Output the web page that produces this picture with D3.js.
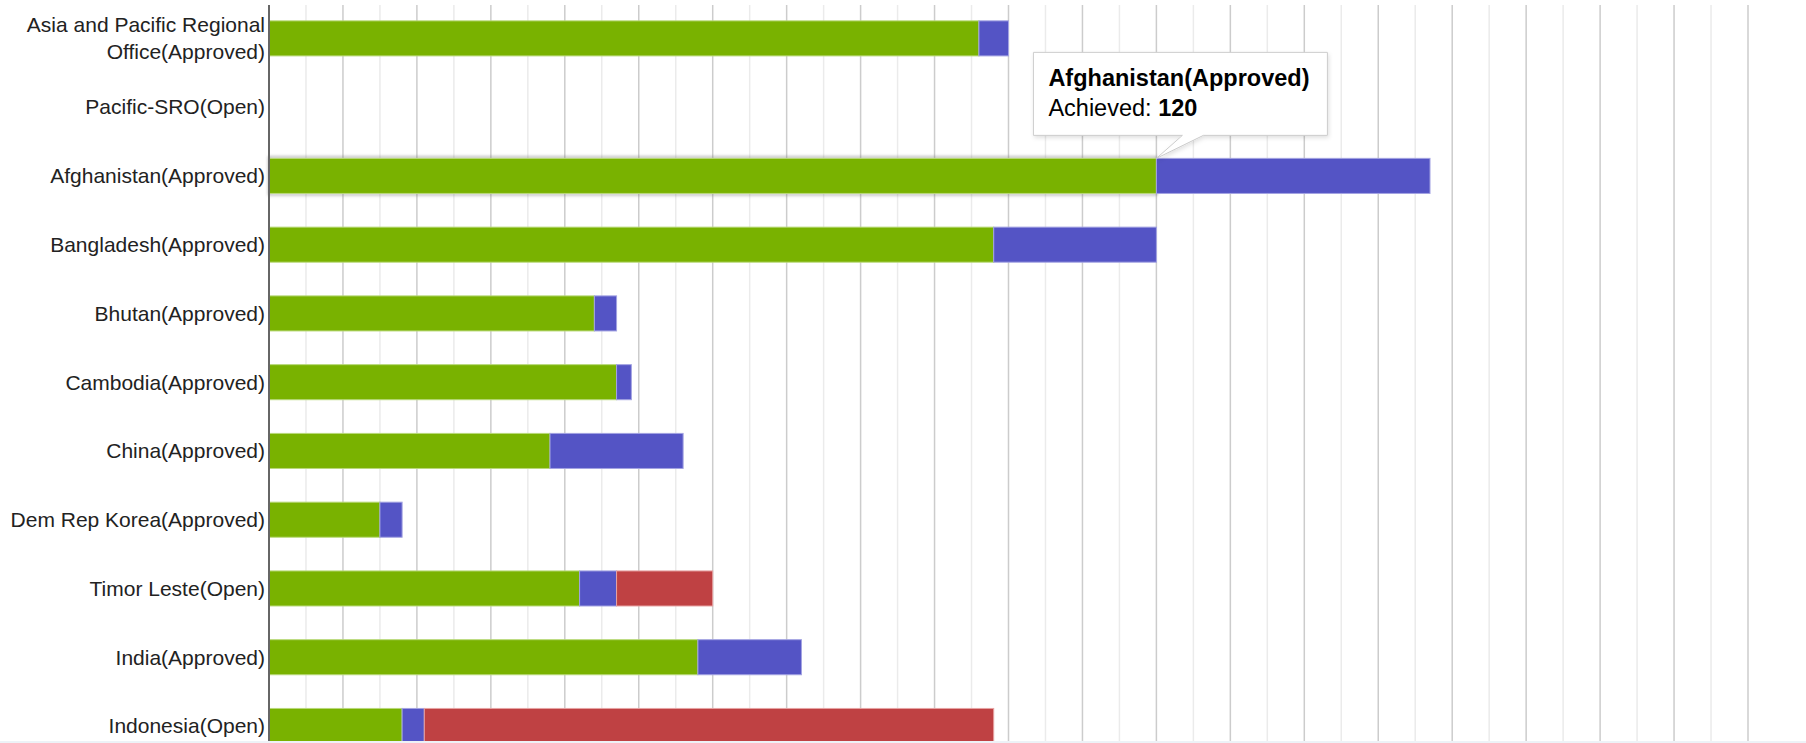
<!DOCTYPE html>
<html>
<head>
<meta charset="utf-8">
<script src="https://cdn.jsdelivr.net/npm/d3@7"></script>
<style>
  body { margin: 0; background: #fff; overflow: hidden; }
  svg { display: block; font-family: Arial, "Liberation Sans", sans-serif; }
</style>
</head>
<body>
<div id="chart"></div>
<script>
const categories = [
  'Asia and Pacific Regional Office(Approved)',
  'Pacific-SRO(Open)',
  'Afghanistan(Approved)',
  'Bangladesh(Approved)',
  'Bhutan(Approved)',
  'Cambodia(Approved)',
  'China(Approved)',
  'Dem Rep Korea(Approved)',
  'Timor Leste(Open)',
  'India(Approved)',
  'Indonesia(Open)'
];
// wrapped label lines (only the first one needs two)
const labelLines = {
  'Asia and Pacific Regional Office(Approved)': ['Asia and Pacific Regional', 'Office(Approved)']
};
const seriesNames = ['Achieved', 'Pending', 'Overdue'];
const achieved = [96, 0, 120, 98, 44, 47, 38, 15, 42, 58, 18];
const pending  = [4, 0, 37, 22, 3, 2, 18, 3, 5, 14, 3];
const overdue  = [0, 0, 0, 0, 0, 0, 0, 0, 13, 0, 77];
const xTicks = d3.range(0, 201, 5);

const colors = ['#79b200', '#5454c5', '#bf4143'];
const strokes = ['#b9d97a', '#a3a3e2', '#e7a3a3'];

const width = 1806, height = 743;
const margin = {top: 4, left: 269, right: 58};
const step = 68.76;

const rows = categories.map((c, i) => ({
  name: c, Achieved: achieved[i], Pending: pending[i], Overdue: overdue[i]
}));

const svg = d3.select('#chart').append('svg')
  .attr('width', width)
  .attr('height', height);

const defs = svg.append('defs');
defs.append('filter').attr('id', 'shadow')
  .attr('x', '-10%').attr('y', '-10%').attr('width', '120%').attr('height', '140%')
  .append('feDropShadow')
    .attr('dx', 1).attr('dy', 2).attr('stdDeviation', 2)
    .attr('flood-color', '#000').attr('flood-opacity', 0.12);
defs.append('filter').attr('id', 'blur')
  .append('feGaussianBlur').attr('stdDeviation', 1.5);

const xScale = d3.scaleLinear()
  .domain([0, 200])
  .range([margin.left, width - margin.right]);

const yScale = d3.scaleBand()
  .domain(categories)
  .range([margin.top, margin.top + step * categories.length])
  .paddingInner(0.49)
  .paddingOuter(0.245);

// gridlines, darker every 10
svg.append('g')
  .selectAll('line')
  .data(xTicks)
  .join('line')
    .attr('x1', d => xScale(d))
    .attr('x2', d => xScale(d))
    .attr('y1', 5)
    .attr('y2', height)
    .attr('stroke', d => d % 10 === 0 ? '#cccccc' : '#ebebeb')
    .attr('stroke-width', 1.5);

// stacked bars
const stacked = d3.stack().keys(seriesNames)(rows);

// hover ring on the focused bar
const focus = rows[2];
svg.append('rect')
  .attr('x', xScale(0))
  .attr('y', yScale(focus.name) - 1)
  .attr('width', xScale(focus.Achieved) - xScale(0))
  .attr('height', yScale.bandwidth() + 2)
  .attr('fill', 'none')
  .attr('stroke', '#777')
  .attr('stroke-opacity', 0.6)
  .attr('stroke-width', 2)
  .attr('filter', 'url(#blur)');

svg.append('g')
  .selectAll('g')
  .data(stacked)
  .join('g')
    .attr('fill', (_, i) => colors[i])
    .attr('stroke', (_, i) => strokes[i])
  .selectAll('rect')
  .data(d => d)
  .join('rect')
    .attr('x', d => xScale(d[0]))
    .attr('y', d => yScale(d.data.name))
    .attr('width', d => xScale(d[1]) - xScale(d[0]))
    .attr('height', yScale.bandwidth())
    .attr('stroke-width', 1);

// y axis: line and labels
svg.append('line')
  .attr('x1', xScale(0)).attr('x2', xScale(0))
  .attr('y1', 5).attr('y2', height)
  .attr('stroke', '#666')
  .attr('stroke-width', 2);

const labels = svg.append('g')
  .attr('font-size', 21)
  .attr('fill', '#222')
  .attr('text-anchor', 'end');

categories.forEach(c => {
  const cy = yScale(c) + yScale.bandwidth() / 2;
  const lines = labelLines[c] || [c];
  const t = labels.append('text')
    .attr('x', xScale(0) - 4)
    .attr('y', cy - (lines.length - 1) * 13.5)
    .attr('dy', '0.35em');
  lines.forEach((l, i) => {
    t.append('tspan')
      .attr('x', xScale(0) - 4)
      .attr('dy', i === 0 ? '0.35em' : 27)
      .text(l);
  });
});

// tooltip for the focused bar
const tipX = xScale(focus.Achieved);
const tipY = yScale(focus.name);
const box = {x: tipX - 123, y: tipY - 106, w: 294, h: 83};
const tip = svg.append('g');
tip.append('path')
  .attr('d', `M${box.x},${box.y} H${box.x + box.w} V${box.y + box.h} H${tipX + 47} L${tipX},${tipY} L${tipX + 26},${box.y + box.h} H${box.x} Z`)
  .attr('fill', '#fff')
  .attr('stroke', '#cccccc')
  .attr('stroke-width', 1)
  .attr('filter', 'url(#shadow)');
tip.append('text')
  .attr('x', box.x + 15)
  .attr('y', box.y + 34)
  .attr('font-size', 23.5)
  .attr('font-weight', 'bold')
  .attr('fill', '#000')
  .text(focus.name);
const line2 = tip.append('text')
  .attr('x', box.x + 15)
  .attr('y', box.y + 64)
  .attr('font-size', 23.5)
  .attr('fill', '#000');
line2.append('tspan').text(seriesNames[0] + ': ');
line2.append('tspan').attr('font-weight', 'bold').text(focus.Achieved);

// thin strip along the bottom edge
svg.append('rect')
  .attr('x', 0).attr('y', height - 2)
  .attr('width', width).attr('height', 2)
  .attr('fill', '#edf2f7');
</script>
</body>
</html>
